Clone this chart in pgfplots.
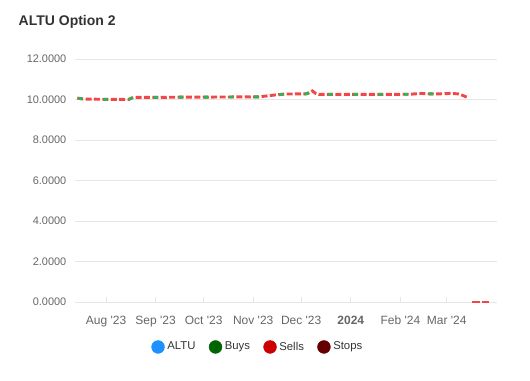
\documentclass[border=0pt]{standalone}
\usepackage{pgfplots}
\pgfplotsset{compat=1.18}
\usepackage{fontspec}
\setmainfont{Liberation Sans}
\definecolor{altu}{HTML}{1E90FF}
\definecolor{buys}{HTML}{006400}
\definecolor{sells}{HTML}{CC0000}
\definecolor{stops}{HTML}{660000}
\definecolor{sellline}{HTML}{F04848}
\definecolor{buyline}{HTML}{22BB55}
\definecolor{gridc}{HTML}{E6E6E6}
\definecolor{ticktext}{HTML}{666666}
\begin{document}
\begin{tikzpicture}
\path[use as bounding box] (-56.25pt,-58.5pt) rectangle (341.25pt,226.5pt);
\node[anchor=west,font=\fontsize{10.5}{12}\selectfont\bfseries,text=black!80] at (-45.75pt,210pt) {ALTU Option 2};
\begin{axis}[
  at={(0pt,0pt)}, anchor=south west,
  scale only axis, width=316.5pt, height=182.25pt,
  xmin=-19.4, xmax=244.4, ymin=0, ymax=12,
  axis line style={draw=none},
  axis x line*=bottom,
  xtick={0,31,61,92,122,153,184,213},
  xticklabels={Aug \textquotesingle23,Sep \textquotesingle23,Oct \textquotesingle23,Nov \textquotesingle23,Dec \textquotesingle23,\textbf{2024},Feb \textquotesingle24,Mar \textquotesingle24},
  x tick label style={font=\fontsize{9}{10}\selectfont, text=ticktext, text height=7pt, text depth=2pt, yshift=-6pt},
  xtick style={draw=gridc, line width=0.75pt},
  major tick length=4pt,
  ytick={0,2,4,6,8,10,12},
  yticklabel={\pgfmathprintnumber[fixed,fixed zerofill,precision=4]{\tick}},
  /pgf/number format/assume math mode=true,
  y tick label style={font=\fontsize{8.2}{10}\selectfont, text=ticktext, xshift=-3pt},
  ytick style={draw=none},
  ymajorgrids, grid style={draw=gridc, line width=0.75pt},
  legend style={at={(0.434,-0.185)}, anchor=center, draw=none, fill=none,
    legend columns=4, font=\fontsize{8.5}{10}\selectfont, text=black!80,
    /tikz/every even column/.style={column sep=8pt}},
  legend cell align=left,
  clip=false,
]
\draw[gridc, line width=0.75pt] (axis cs:-19.4,0) -- (axis cs:244.4,0);
\addlegendimage{legend image code/.code={\fill[altu] (0.25em,0pt) circle (4.8pt);}}
\addlegendentry{ALTU}
\addlegendimage{legend image code/.code={\fill[buys] (0.25em,0pt) circle (4.8pt);}}
\addlegendentry{Buys}
\addlegendimage{legend image code/.code={\fill[sells] (0.25em,0pt) circle (4.8pt);}}
\addlegendentry{Sells}
\addlegendimage{legend image code/.code={\fill[stops] (0.25em,0pt) circle (4.8pt);}}
\addlegendentry{Stops}
\addplot[sellline, line width=2.2pt, dash pattern=on 4.5pt off 1.8pt, forget plot] coordinates {
(-18,10.07) (-14,10.02) (14,10.0) (17,10.1) (60,10.12) (95,10.13) (100,10.17) (105,10.22) (112,10.27) (125,10.28) (127,10.33) (129,10.42) (131,10.3) (133,10.25) (160,10.25) (190,10.26) (197,10.3) (205,10.27) (215,10.3) (220,10.28) (223,10.2) (226,10.1)
};
\addplot[buyline, line width=2.2pt, dash pattern=on 3pt off 15.9pt, dash phase=-1pt, forget plot] coordinates {
(-18,10.07) (-14,10.02) (14,10.0) (17,10.1) (60,10.12) (95,10.13) (100,10.17) (105,10.22) (112,10.27) (125,10.28) (127,10.33) (129,10.42) (131,10.3) (133,10.25) (160,10.25) (190,10.26) (197,10.3) (205,10.27) (215,10.3)
};
\addplot[sellline, line width=2.2pt, dash pattern=on 5.5pt off 1.5pt, forget plot] coordinates {
(229,0) (240.5,0)
};
\end{axis}
\end{tikzpicture}
\end{document}
